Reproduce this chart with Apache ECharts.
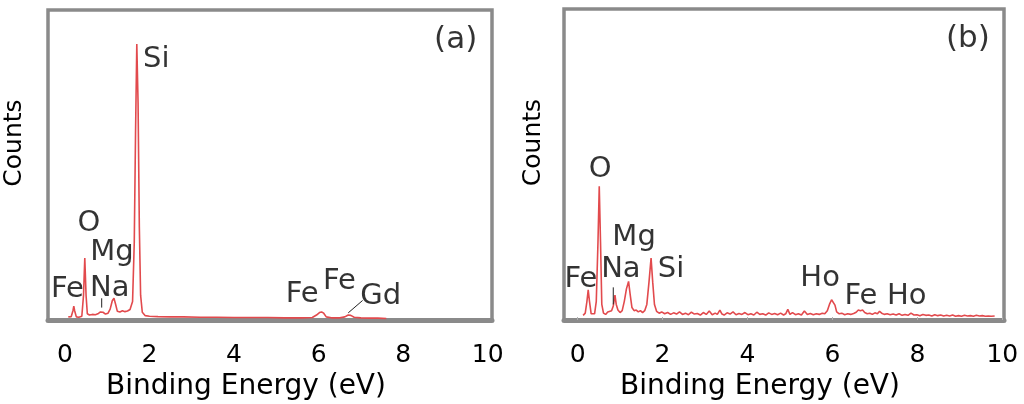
<!DOCTYPE html>
<html>
<head>
<meta charset="utf-8">
<script src="https://cdn.jsdelivr.net/npm/echarts@6/dist/echarts.min.js"></script>
<style>
  html, body { margin: 0; padding: 0; background: #fff; }
  #chart { width: 1024px; height: 404px; }
</style>
</head>
<body>
<div id="chart"></div>
<script>
// energy ticks shown under both panels
const energyTicks = [0, 2, 4, 6, 8, 10]

// spectrum (a): [energy eV, counts (relative)]
const spectrumA = [
  [0.08, 1.0], [0.15, 1.1], [0.19, 3.0], [0.21, 4.5], [0.23, 3.0], [0.27, 1.0],
  [0.33, 0.9], [0.40, 1.2], [0.44, 8], [0.47, 20], [0.50, 8], [0.53, 2.0],
  [0.58, 1.6], [0.65, 1.8], [0.72, 1.7], [0.78, 2.0], [0.84, 2.6], [0.87, 3.2],
  [0.90, 2.5], [0.96, 1.9], [1.02, 2.2], [1.07, 3.5], [1.12, 6.2], [1.16, 7.0],
  [1.20, 5.0], [1.24, 2.8], [1.30, 2.6], [1.36, 3.0], [1.42, 2.7], [1.48, 2.9],
  [1.54, 3.4], [1.60, 6], [1.64, 25], [1.67, 60], [1.70, 89], [1.73, 70],
  [1.76, 30], [1.79, 8], [1.83, 2.5], [1.90, 1.4], [2.0, 1.2], [2.2, 1.1],
  [2.5, 1.0], [2.8, 1.0], [3.2, 0.9], [3.6, 0.9], [4.0, 0.8], [4.4, 0.8],
  [4.8, 0.8], [5.2, 0.7], [5.6, 0.7], [5.85, 0.8], [5.95, 1.6], [6.02, 2.4],
  [6.07, 2.6], [6.12, 2.2], [6.18, 1.0], [6.3, 0.7], [6.5, 0.7], [6.62, 1.0],
  [6.70, 1.6], [6.76, 1.5], [6.84, 0.9], [7.0, 0.7], [7.2, 0.6], [7.4, 0.6],
  [7.6, 0.5]
]

// spectrum (b)
const spectrumB = [
  [0.13, 1.5], [0.18, 2.2], [0.22, 6], [0.25, 9.7], [0.28, 6], [0.32, 2.0],
  [0.36, 1.6], [0.40, 2.0], [0.44, 6], [0.48, 25], [0.51, 43], [0.54, 25],
  [0.57, 5], [0.61, 2.2], [0.66, 1.8], [0.71, 2.6], [0.75, 2.0], [0.80, 3.0],
  [0.84, 4.5], [0.88, 8], [0.91, 5], [0.95, 3.2], [1.0, 2.4], [1.05, 3.0],
  [1.10, 6], [1.15, 10], [1.20, 12.4], [1.24, 8], [1.28, 4], [1.33, 3.0],
  [1.38, 3.2], [1.43, 2.6], [1.48, 3.0], [1.53, 2.4], [1.58, 3.0], [1.63, 5],
  [1.68, 12], [1.73, 19.9], [1.77, 12], [1.81, 5], [1.86, 2.8], [1.92, 2.2],
  [1.98, 2.6], [2.05, 2.0], [2.12, 2.4], [2.19, 1.8], [2.26, 2.3], [2.33, 1.9],
  [2.40, 2.6], [2.47, 1.8], [2.54, 2.2], [2.61, 1.7], [2.68, 2.5], [2.75, 1.9],
  [2.82, 2.1], [2.89, 1.6], [2.96, 2.4], [3.03, 1.8], [3.10, 2.9], [3.17, 1.7],
  [3.24, 2.2], [3.29, 1.8], [3.35, 3.2], [3.40, 1.9], [3.45, 1.6], [3.52, 2.3],
  [3.59, 1.9], [3.66, 2.6], [3.73, 1.7], [3.80, 2.1], [3.87, 1.8], [3.94, 2.4],
  [4.01, 1.7], [4.08, 2.0], [4.15, 1.6], [4.22, 2.5], [4.29, 1.8], [4.36, 2.0],
  [4.43, 1.6], [4.50, 2.3], [4.57, 1.8], [4.64, 2.1], [4.71, 1.7], [4.78, 2.2],
  [4.85, 1.6], [4.90, 2.0], [4.95, 3.4], [5.00, 1.8], [5.06, 2.4], [5.13, 1.7],
  [5.20, 2.0], [5.27, 1.6], [5.34, 2.9], [5.41, 1.8], [5.48, 2.1], [5.55, 1.7],
  [5.62, 2.0], [5.69, 1.8], [5.76, 2.2], [5.82, 2.0], [5.88, 3.0], [5.93, 5.0],
  [5.98, 6.5], [6.02, 6.0], [6.06, 4.8], [6.10, 2.6], [6.16, 2.0], [6.22, 2.2],
  [6.29, 1.7], [6.36, 2.0], [6.43, 1.8], [6.50, 2.1], [6.56, 2.5], [6.61, 3.2],
  [6.66, 3.0], [6.71, 3.2], [6.76, 2.4], [6.82, 2.0], [6.88, 2.2], [6.94, 1.8],
  [7.00, 2.3], [7.06, 2.0], [7.11, 2.8], [7.16, 2.2], [7.22, 1.8], [7.29, 2.0],
  [7.36, 1.7], [7.43, 1.9], [7.50, 1.6], [7.57, 2.0], [7.64, 1.5], [7.71, 1.8],
  [7.78, 1.5], [7.85, 2.2], [7.92, 1.6], [7.99, 1.7], [8.06, 1.4], [8.13, 1.8],
  [8.20, 1.5], [8.27, 1.6], [8.34, 1.3], [8.41, 1.7], [8.48, 1.4], [8.55, 1.6],
  [8.62, 1.3], [8.69, 1.5], [8.76, 1.3], [8.83, 1.6], [8.90, 1.2], [8.97, 1.4],
  [9.04, 1.2], [9.11, 1.5], [9.18, 1.3], [9.25, 1.4], [9.32, 1.2], [9.39, 1.5],
  [9.46, 1.3], [9.53, 1.4], [9.60, 1.2], [9.67, 1.3], [9.74, 1.2], [9.82, 1.3]
]

// element labels: [energy, counts, text]
const peakLabelsA = [
  [2.16, 84.2, 'Si'], [0.57, 31.3, 'O'], [1.11, 21.9, 'Mg'], [0.06, 10, 'Fe'],
  [1.06, 10.3, 'Na'], [5.61, 8.1, 'Fe'], [6.49, 12.3, 'Fe'], [7.47, 7.7, 'Gd']
]
const peakLabelsB = [
  [0.53, 48.4, 'O'], [1.33, 26.5, 'Mg'], [1.02, 16.1, 'Na'], [0.08, 12.9, 'Fe'],
  [2.2, 16.1, 'Si'], [5.71, 13.5, 'Ho'], [6.67, 7.7, 'Fe'], [7.75, 7.7, 'Ho']
]
const panelTags = [[9.24, 90.3, '(a)'], [9.19, 90.3, '(b)']]

// short pointer lines
const leadersA = [
  [[0.87, 4.0], [0.87, 7.0]],
  [[6.70, 2.3], [7.04, 6.3]]
]
const leadersB = [
  [[0.84, 5.0], [0.84, 10.5]]
]

const lineColor = '#e24a4d'
const frameColor = '#8a8a8a'
const font = 'DejaVu Sans'

function makeX(gridIndex, min, max) {
  return {
    type: 'value', gridIndex: gridIndex, min: min, max: max,
    splitLine: { show: false },
    axisLine: { show: true, lineStyle: { color: frameColor, width: 5 } },
    axisTick: {
      show: gridIndex === 1, inside: true, length: 3, customValues: energyTicks,
      lineStyle: { color: '#b0b0b0' }
    },
    axisLabel: {
      customValues: energyTicks, margin: 23,
      color: '#000', fontSize: 25, fontFamily: font
    },
    name: 'Binding Energy (eV)', nameLocation: 'middle', nameGap: 42,
    nameTextStyle: { color: '#000', fontSize: 28, fontFamily: font, padding: [0, 48, 0, 0] }
  }
}

function makeY(gridIndex, gap) {
  return {
    type: 'value', gridIndex: gridIndex, min: 0, max: 100,
    axisLine: { show: false }, axisTick: { show: false },
    axisLabel: { show: false }, splitLine: { show: false },
    name: 'Counts', nameLocation: 'middle', nameGap: gap,
    nameTextStyle: { color: '#000', fontSize: 25, fontFamily: font, padding: [0, 0, 0, 44] }
  }
}

function labelSeries(idx, data, size) {
  return {
    type: 'scatter', xAxisIndex: idx, yAxisIndex: idx, silent: true,
    symbolSize: 1, itemStyle: { color: 'rgba(0,0,0,0)' },
    data: data.map((d) => ({ value: [d[0], d[1]], name: d[2] })),
    label: {
      show: true, position: 'inside', formatter: '{b}',
      color: '#000', fontSize: size, fontFamily: font
    },
    z: 5
  }
}

function leaderSeries(idx, list) {
  return list.map((seg) => ({
    type: 'line', xAxisIndex: idx, yAxisIndex: idx, silent: true,
    symbol: 'none', data: seg,
    lineStyle: { color: '#222', width: 1 }, z: 4
  }))
}

function spectrumSeries(idx, data) {
  return {
    type: 'line', xAxisIndex: idx, yAxisIndex: idx, silent: true,
    symbol: 'none', data: data,
    lineStyle: { color: lineColor, width: 1.6 }, z: 3
  }
}

const chart = echarts.init(document.getElementById('chart'), null, { renderer: 'canvas' })

chart.setOption({
  animation: false,
  backgroundColor: '#fff',
  grid: [
    {
      left: 48, top: 10, right: 532, bottom: 84, outerBoundsMode: 'none',
      show: true, borderColor: frameColor, borderWidth: 3.5, backgroundColor: '#fff'
    },
    {
      left: 564, top: 9, right: 20, bottom: 84, outerBoundsMode: 'none',
      show: true, borderColor: frameColor, borderWidth: 3.5, backgroundColor: '#fff'
    }
  ],
  xAxis: [makeX(0, -0.4, 10.1), makeX(1, -0.32, 10.04)],
  yAxis: [makeY(0, 21), makeY(1, 18)],
  series: [
    spectrumSeries(0, spectrumA),
    spectrumSeries(1, spectrumB),
    labelSeries(0, peakLabelsA, 29),
    labelSeries(1, peakLabelsB, 29),
    labelSeries(0, [panelTags[0]], 31),
    labelSeries(1, [panelTags[1]], 31),
    ...leaderSeries(0, leadersA),
    ...leaderSeries(1, leadersB)
  ]
})
</script>
</body>
</html>
